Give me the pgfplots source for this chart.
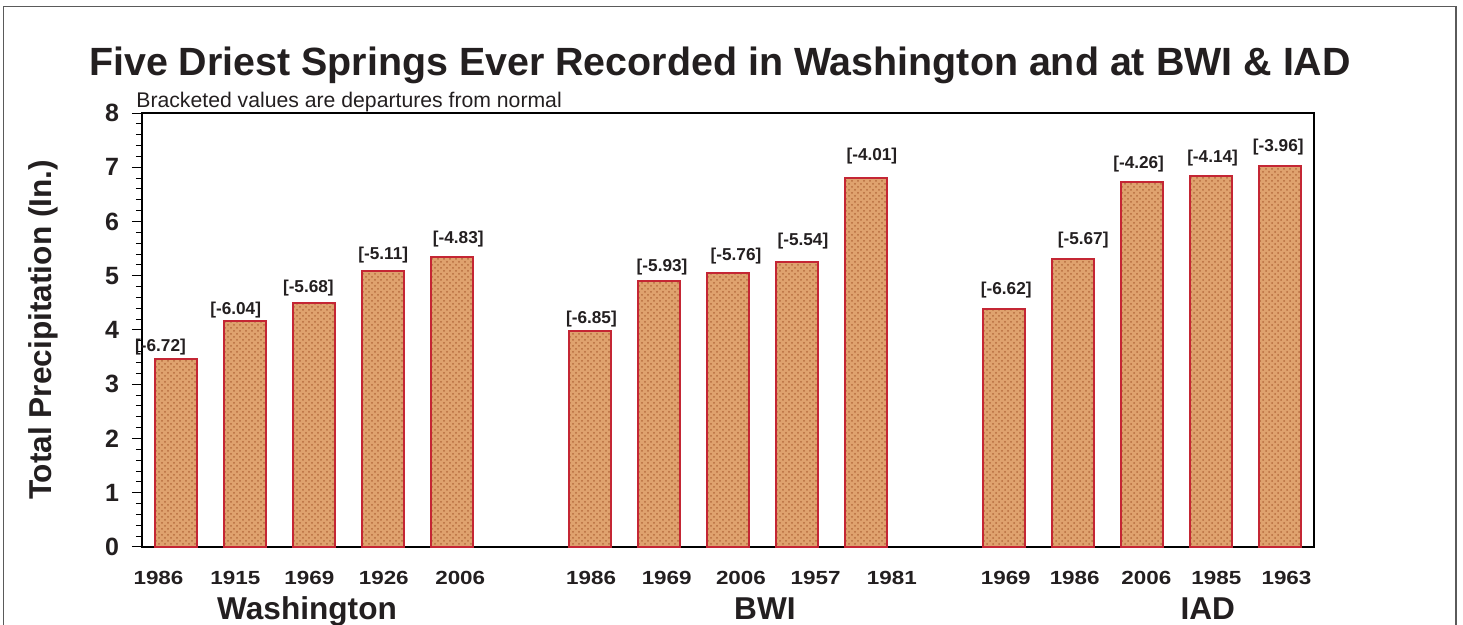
\documentclass[border=0pt]{standalone}
\usepackage{pgfplots}
\pgfplotsset{compat=1.18}
\usepackage{pgfplotstable}
\usepackage{fontspec}
\setmainfont{Liberation Sans}
\newfontfamily\yearfont[FakeStretch=1.18]{Liberation Sans}
\usetikzlibrary{patterns}
\definecolor{txt}{RGB}{35,31,32}
\definecolor{barfill}{RGB}{223,162,110}
\definecolor{barline}{RGB}{196,38,52}
\definecolor{speck}{RGB}{182,108,62}
\definecolor{framegray}{RGB}{90,90,90}

\pgfplotstableread{
x y dx dy label
0 3.47 -8 3.5 [-6.72]
1 4.17 -4.85 3.35 [-6.04]
2 4.49 -3 5.3 [-5.68]
3 5.08 0 5.85 [-5.11]
4 5.34 3 7 [-4.83]
6 3.98 0.65 4 [-6.85]
7 4.90 1.5 5 [-5.93]
8 5.05 4 6.3 [-5.76]
9 5.26 3 7.85 [-5.54]
10 6.81 3 8.5 [-4.01]
12 4.38 1.25 7.65 [-6.62]
13 5.30 5.25 7.35 [-5.67]
14 6.73 -1.5 6.7 [-4.26]
15 6.84 1 6.85 [-4.14]
16 7.02 -0.65 7.15 [-3.96]
}\drydata

\begin{document}
\begin{tikzpicture}
\draw[line width=0.75pt, framegray] (1.75pt,-10pt) -- (1.75pt,309.25pt) -- (728pt,309.25pt) -- (728pt,-10pt);
\node[anchor=base, inner sep=0pt, font=\bfseries\fontsize{19.7}{22}\selectfont, text=txt] at (360pt,274.5pt) {Five Driest Springs Ever Recorded in Washington and at BWI \& IAD};
\node[anchor=base west, inner sep=0pt, font=\fontsize{10.6}{12}\selectfont, text=txt] at (68pt,258.9pt) {Bracketed values are departures from normal};
\node[rotate=90, inner sep=0pt, font=\bfseries\fontsize{15.8}{18}\selectfont, text=txt] at (21.5pt,147.5pt) {Total Precipitation (In.)};
\begin{axis}[
  at={(71pt,39pt)}, anchor=south west, scale only axis,
  width=586pt, height=217pt,
  xmin=-0.5, xmax=16.5, ymin=0, ymax=8,
  ytick={0,1,2,3,4,5,6,7,8}, minor y tick num=4,
  tick pos=left, tick align=outside,
  major tick length=5pt, minor tick length=3pt,
  xtick={-0.261,0.855,1.928,3.007,4.116,6.014,7.111,8.188,9.271,10.377,12.029,13.029,14.068,15.083,16.101},
  xticklabels={1986,1915,1969,1926,2006,1986,1969,2006,1957,1981,1969,1986,2006,1985,1963},
  x tick style={draw=none},
  xticklabel style={anchor=base, yshift=-14pt, font=\yearfont\bfseries\fontsize{9.5}{10}\selectfont, text=txt},
  yticklabel style={xshift=-3pt, font=\bfseries\fontsize{12.5}{14}\selectfont, text=txt},
  /pgf/number format/assume math mode=true,
  axis line style={line width=1pt, black},
  y tick style={line width=0.5pt, black},
  clip=false,
  ybar, bar width=21pt,
  nodes near coords, point meta=explicit symbolic,
  visualization depends on={\thisrow{dx} \as \ldx},
  visualization depends on={\thisrow{dy} \as \ldy},
  every node near coord/.append style={anchor=base, inner sep=0pt, xshift=\ldx pt, yshift=\ldy pt, font=\bfseries\fontsize{8.6}{10}\selectfont, text=txt},
]
\addplot[fill=barfill, draw=barline, line width=1pt, bar shift=0pt,
  postaction={pattern=crosshatch dots, pattern color=speck}]
  table[x=x, y=y, meta=label] {\drydata};
\node[anchor=base, inner sep=0pt, font=\bfseries\fontsize{15.8}{18}\selectfont, text=txt, yshift=-36.5pt] at (axis cs:1.894,0) {Washington};
\node[anchor=base, inner sep=0pt, font=\bfseries\fontsize{15.8}{18}\selectfont, text=txt, yshift=-36.5pt] at (axis cs:8.536,0) {BWI};
\node[anchor=base, inner sep=0pt, font=\bfseries\fontsize{15.8}{18}\selectfont, text=txt, yshift=-36.5pt] at (axis cs:14.96,0) {IAD};
\end{axis}
\pgfresetboundingbox
\useasboundingbox (0,0) rectangle (731.5pt,312.5pt);
\end{tikzpicture}
\end{document}
